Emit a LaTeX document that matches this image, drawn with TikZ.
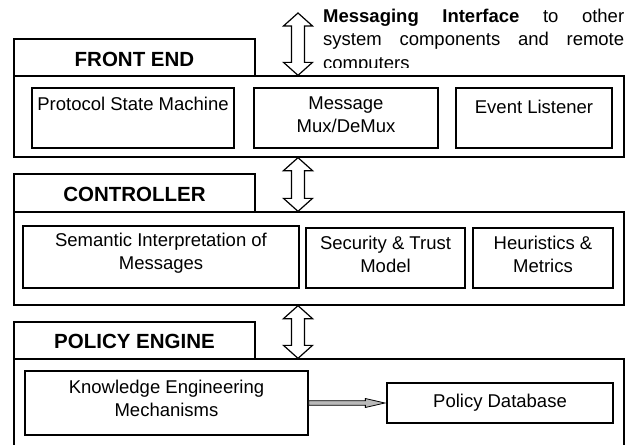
\documentclass[tikz,border=0pt]{standalone}
\usepackage{fontspec}
\setmainfont{Liberation Sans}
\usetikzlibrary{calc}
\tikzset{
  box/.style={draw=black, line width=1.3pt, fill=white, inner sep=0pt, anchor=center},
  title/.style={inner sep=0pt, font=\fontsize{20.5}{24}\selectfont\bfseries},
  txt/.style={inner sep=0pt, align=center, font=\fontsize{18.5}{22.5}\selectfont},
  bigarrow/.style={draw=black, fill=white, line width=1.2pt, line join=miter,
    to path={let \p1=(\tikztostart), \p2=(\tikztotarget) in
      (\x1,\y1) -- (\x1+14.5pt,\y1-13pt) -- (\x1+6.5pt,\y1-13pt) -- (\x1+6.5pt,\y2+13pt)
      -- (\x1+14.5pt,\y2+13pt) -- (\x1,\y2) -- (\x1-14.5pt,\y2+13pt) -- (\x1-6.5pt,\y2+13pt)
      -- (\x1-6.5pt,\y1-13pt) -- (\x1-14.5pt,\y1-13pt) -- cycle}},
  hollowarrow/.style={draw=black, fill=gray!55, line width=0.8pt,
    to path={let \p1=(\tikztostart), \p2=(\tikztotarget) in
      (\x1,\y1+2.3pt) -- (\x2-21pt,\y1+2.3pt) -- (\x2-21pt,\y1+4.5pt) -- (\x2-1.5pt,\y1)
      -- (\x2-21pt,\y1-4.5pt) -- (\x2-21pt,\y1-2.3pt) -- (\x1,\y1-2.3pt) -- cycle}}
}
\begin{document}
\begin{tikzpicture}[x=1pt, y=-1pt]
\useasboundingbox (0,0) rectangle (636,444);
\begin{scope}
\clip (0,0) rectangle (636,444);

% FRONT END
\node[box, minimum width=241pt, minimum height=37pt] (fetitle) at (134.5,57.5) {};
\node[title] (fetitletxt) at (134.5,59.5) {FRONT END};
\node[box, minimum width=610pt, minimum height=81pt] (febox) at (319,116.5) {};
\node[box, minimum width=202pt, minimum height=60pt] (psm) at (133,118) {};
\node[txt, anchor=north] (psmtxt) at (133,97) {Protocol State Machine};
\node[box, minimum width=184pt, minimum height=60pt] (mux) at (346,118) {};
\node[txt, anchor=north] (muxtxt) at (346,97) {Message\\Mux/DeMux};
\node[box, minimum width=156pt, minimum height=60pt] (evt) at (534,118) {};
\node[txt, anchor=north] (evttxt) at (534,100) {Event Listener};

% CONTROLLER
\node[box, minimum width=241pt, minimum height=38pt] (cttitle) at (134.5,193) {};
\node[title] (cttitletxt) at (134.5,194.5) {CONTROLLER};
\node[box, minimum width=610pt, minimum height=93pt] (ctbox) at (319,258.5) {};
\node[box, minimum width=276pt, minimum height=62pt] (sem) at (161,257) {};
\node[txt, anchor=north] (semtxt) at (161,233) {Semantic Interpretation of\\Messages};
\node[box, minimum width=159pt, minimum height=60pt] (sec) at (385.5,258) {};
\node[txt, anchor=north] (sectxt) at (385.5,236) {Security \& Trust\\Model};
\node[box, minimum width=140pt, minimum height=60pt] (heu) at (543,258) {};
\node[txt, anchor=north] (heutxt) at (543,236) {Heuristics \&\\Metrics};

% POLICY ENGINE
\node[box, minimum width=241pt, minimum height=37pt] (petitle) at (134.5,340.5) {};
\node[title] (petitletxt) at (134.5,341.5) {POLICY ENGINE};
\node[box, minimum width=610pt, minimum height=101pt] (pebox) at (319,409.5) {};
\node[box, minimum width=283pt, minimum height=64pt] (kem) at (166.5,403) {};
\node[txt, anchor=north] (kemtxt) at (166.5,380) {Knowledge Engineering\\Mechanisms};
\node[box, minimum width=226pt, minimum height=40pt] (pdb) at (500,403) {};
\node[txt] (pdbtxt) at (500,403) {Policy Database};

% connectors
\coordinate (mtop) at (298,13);
\draw[bigarrow] (mtop) to (mtop |- febox.north);
\draw[bigarrow] (mtop |- febox.south) to (mtop |- ctbox.north);
\draw[bigarrow] (mtop |- ctbox.south) to (mtop |- pebox.north);
\draw[hollowarrow] (kem.east) to (pdb.west);

% messaging interface text
\begin{scope}
\clip (318,0) rectangle (636,67);
\node[inner sep=0pt, anchor=north west, text width=301pt, align=justify,
      font=\fontsize{18.5}{23.5}\selectfont] (msgtxt) at (323,8.5)
  {\textbf{Messaging Interface} to other\linebreak system components and remote\linebreak computers};
\end{scope}
\end{scope}
\end{tikzpicture}
\end{document}
